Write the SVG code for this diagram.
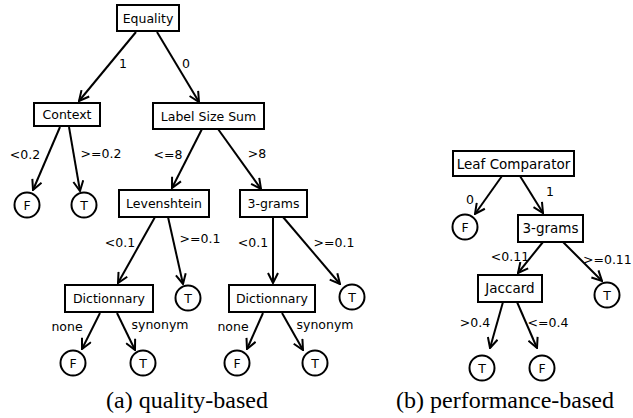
<svg xmlns="http://www.w3.org/2000/svg" width="633" height="418" viewBox="0 0 633 418">
<style>
.box{fill:#fff;stroke:#000;stroke-width:2}
.leaf{fill:#fff;stroke:#000;stroke-width:2}
.t{font-family:"DejaVu Sans",sans-serif;font-size:12.5px;fill:#000;text-anchor:middle}
.tb{font-family:"DejaVu Sans",sans-serif;font-size:13.5px;fill:#000;text-anchor:middle}
.el{font-family:"DejaVu Sans",sans-serif;font-size:12.5px;fill:#000;text-anchor:middle}
.cap{font-family:"Liberation Serif",serif;font-size:24px;fill:#000;text-anchor:middle}
.e{stroke:#000;stroke-width:2;fill:none;marker-end:url(#ah)}
</style>
<defs>
<marker id="ah" viewBox="0 0 12 12" refX="11" refY="6" markerWidth="12" markerHeight="12" orient="auto" markerUnits="userSpaceOnUse">
<path d="M1,1 L11,6 L1,11" fill="none" stroke="#000" stroke-width="2"/>
</marker>
</defs>
<rect width="633" height="418" fill="#fff"/>
<g id="connectors">
<line class="e" x1="136" y1="32" x2="79" y2="101"/>
<line class="e" x1="157" y1="32" x2="199" y2="102"/>
<line class="e" x1="60" y1="127" x2="33" y2="190"/>
<line class="e" x1="69" y1="127" x2="80" y2="191"/>
<line class="e" x1="202" y1="129" x2="172" y2="188"/>
<line class="e" x1="218" y1="129" x2="261" y2="189"/>
<line class="e" x1="155" y1="217" x2="118" y2="283"/>
<line class="e" x1="168" y1="217" x2="183" y2="284"/>
<line class="e" x1="273" y1="217" x2="273" y2="283"/>
<line class="e" x1="283" y1="217" x2="340" y2="284"/>
<line class="e" x1="100" y1="313" x2="82" y2="349"/>
<line class="e" x1="117" y1="313" x2="135" y2="350"/>
<line class="e" x1="263" y1="313" x2="247" y2="349"/>
<line class="e" x1="282" y1="313" x2="303" y2="350"/>
<line class="e" x1="502" y1="176" x2="475" y2="214"/>
<line class="e" x1="520" y1="176" x2="543" y2="213"/>
<line class="e" x1="543" y1="242" x2="518" y2="273"/>
<line class="e" x1="563" y1="242" x2="602" y2="281"/>
<line class="e" x1="503" y1="302" x2="490" y2="348"/>
<line class="e" x1="517" y1="302" x2="537" y2="348"/>
<text class="el" x="123" y="68">1</text>
<text class="el" x="186" y="68">0</text>
<text class="el" x="25" y="159">&lt;0.2</text>
<text class="el" x="101" y="158">&gt;=0.2</text>
<text class="el" x="168" y="159">&lt;=8</text>
<text class="el" x="257" y="158">&gt;8</text>
<text class="el" x="120" y="247">&lt;0.1</text>
<text class="el" x="200" y="243">&gt;=0.1</text>
<text class="el" x="253" y="247">&lt;0.1</text>
<text class="el" x="334" y="247">&gt;=0.1</text>
<text class="el" x="67" y="331">none</text>
<text class="el" x="160" y="329">synonym</text>
<text class="el" x="233" y="331">none</text>
<text class="el" x="325" y="329">synonym</text>
<text class="el" x="470" y="204">0</text>
<text class="el" x="550" y="196">1</text>
<text class="el" x="510" y="261">&lt;0.11</text>
<text class="el" x="583" y="264" style="text-anchor:start">&gt;=0.11</text>
<text class="el" x="475" y="327">&gt;0.4</text>
<text class="el" x="548" y="327">&lt;=0.4</text>
</g>
<g id="n-equality"><rect class="box" x="117" y="5" width="62" height="26"/><text class="t" x="148" y="22.5">Equality</text></g>
<g id="n-context"><rect class="box" x="34" y="103" width="66" height="23"/><text class="t" x="67" y="119">Context</text></g>
<g id="n-lss"><rect class="box" x="153" y="103" width="111" height="26"/><text class="t" x="208.5" y="120.5">Label Size Sum</text></g>
<g id="n-leaf1"><circle class="leaf" cx="27" cy="205" r="12.5"/><text class="t" x="27" y="209.5">F</text></g>
<g id="n-leaf2"><circle class="leaf" cx="84" cy="205" r="12.5"/><text class="t" x="84" y="209.5">T</text></g>
<g id="n-lev"><rect class="box" x="119" y="190" width="90" height="27"/><text class="t" x="164" y="208">Levenshtein</text></g>
<g id="n-3grams-a"><rect class="box" x="240" y="190" width="67" height="27"/><text class="t" x="273.5" y="208">3-grams</text></g>
<g id="n-dict1"><rect class="box" x="65" y="285" width="88" height="27"/><text class="t" x="109" y="303">Dictionnary</text></g>
<g id="n-leaf3"><circle class="leaf" cx="188" cy="298" r="12.5"/><text class="t" x="188" y="302.5">T</text></g>
<g id="n-dict2"><rect class="box" x="229" y="285" width="86" height="27"/><text class="t" x="272" y="303">Dictionnary</text></g>
<g id="n-leaf4"><circle class="leaf" cx="352" cy="297" r="12.5"/><text class="t" x="352" y="301.5">T</text></g>
<g id="n-leaf5"><circle class="leaf" cx="73" cy="363" r="12.5"/><text class="t" x="73" y="367.5">F</text></g>
<g id="n-leaf6"><circle class="leaf" cx="143" cy="363" r="12.5"/><text class="t" x="143" y="367.5">T</text></g>
<g id="n-leaf7"><circle class="leaf" cx="237" cy="363" r="12.5"/><text class="t" x="237" y="367.5">F</text></g>
<g id="n-leaf8"><circle class="leaf" cx="315" cy="363" r="12.5"/><text class="t" x="315" y="367.5">T</text></g>
<g id="n-leafcomp"><rect class="box" x="453" y="151" width="121" height="25"/><text class="tb" x="513.5" y="168.5">Leaf Comparator</text></g>
<g id="n-leaf9"><circle class="leaf" cx="465" cy="227" r="12.5"/><text class="t" x="465" y="231.5">F</text></g>
<g id="n-3grams-b"><rect class="box" x="518" y="215" width="65" height="27"/><text class="tb" x="550.5" y="233">3-grams</text></g>
<g id="n-jaccard"><rect class="box" x="478" y="275" width="64" height="27"/><text class="tb" x="510" y="293">Jaccard</text></g>
<g id="n-leaf10"><circle class="leaf" cx="607" cy="295" r="12.5"/><text class="t" x="607" y="299.5">T</text></g>
<g id="n-leaf11"><circle class="leaf" cx="482" cy="368" r="12.5"/><text class="t" x="482" y="372.5">T</text></g>
<g id="n-leaf12"><circle class="leaf" cx="542" cy="368" r="12.5"/><text class="t" x="542" y="372.5">F</text></g>
<text class="cap" x="187" y="408">(a) quality-based</text>
<text class="cap" x="505" y="408">(b) performance-based</text>
</svg>
